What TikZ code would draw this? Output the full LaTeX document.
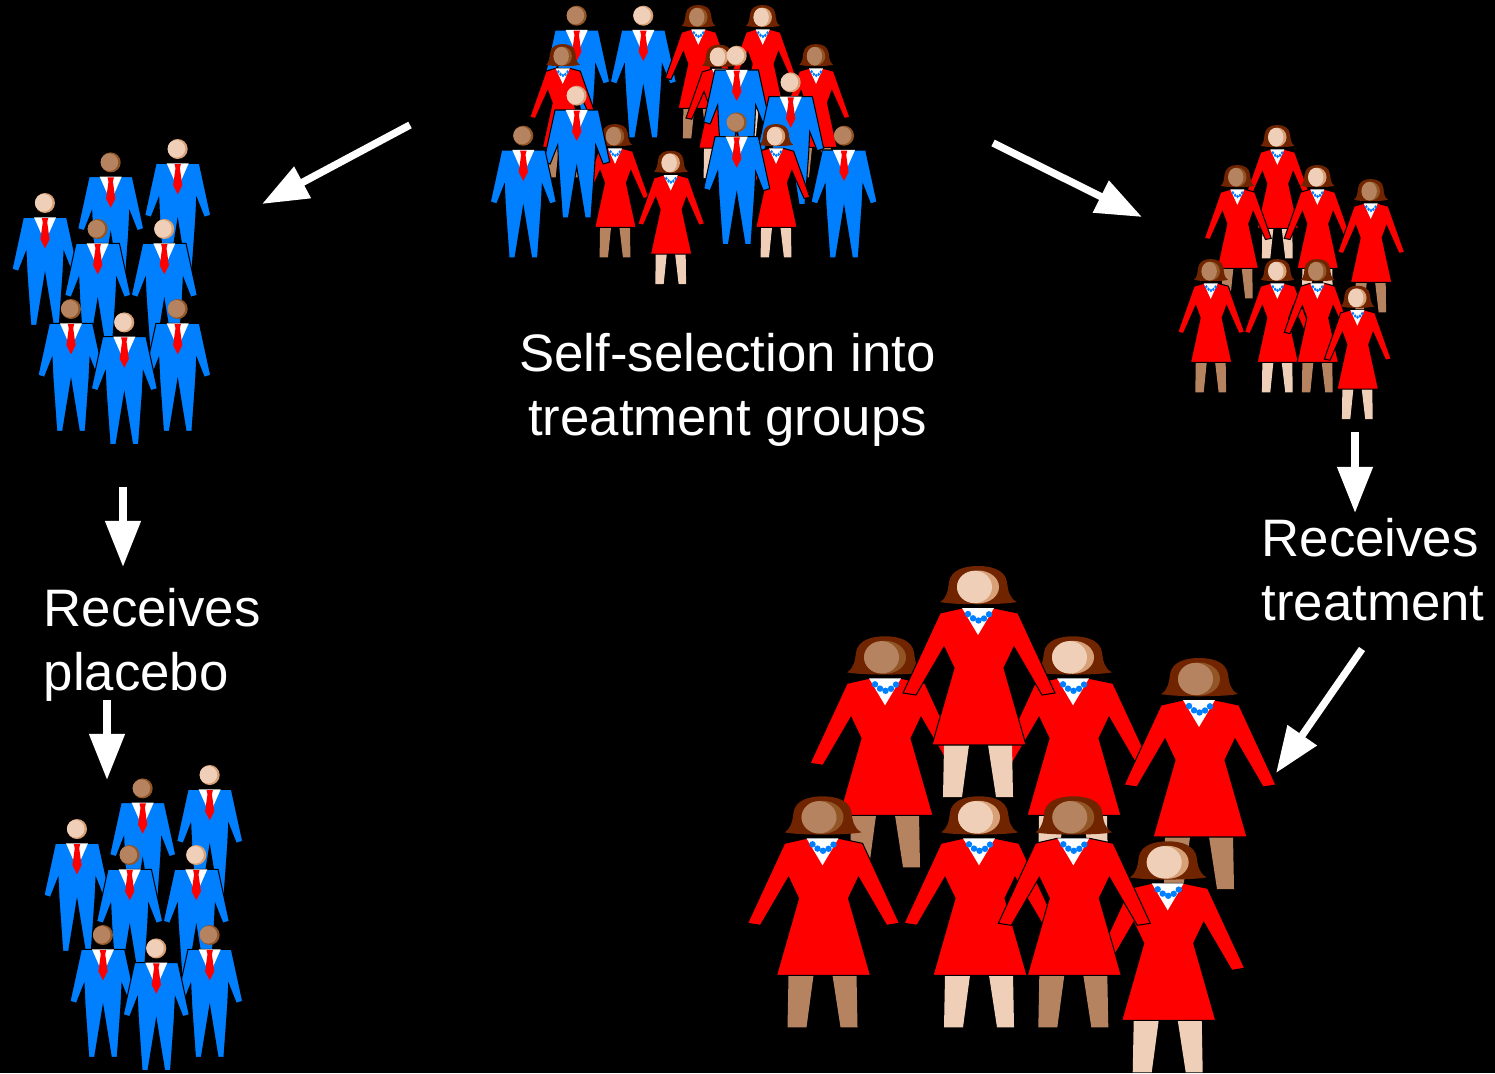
\documentclass[tikz,border=0pt]{standalone}
\usepackage{fontspec}
\setmainfont{Liberation Sans}
\usetikzlibrary{arrows.meta}
\definecolor{SuitClr}{RGB}{0,128,255}
\definecolor{DressClr}{RGB}{255,0,0}
\definecolor{skinA}{RGB}{239,207,184}
\definecolor{skinAdk}{RGB}{216,160,118}
\definecolor{skinB}{RGB}{181,131,95}
\definecolor{skinBdk}{RGB}{145,85,38}
\definecolor{HairClr}{RGB}{112,36,0}

\tikzset{
  figedge/.style={draw=black,line width=.3pt},
  smallfig/.style={xscale=.44,yscale=.577},
  bigfig/.style={scale=1},
  arr/.style={white,line width=2.1pt,-{Triangle[length=4.6mm,width=3.4mm]}},
  lbl/.style={text=white,inner sep=0pt,font=\fontsize{15}{18}\selectfont}
}

% man in a suit, #1,#2 = neck, #3 = skin (A or B)
\newcommand{\man}[3]{%
\begin{scope}[shift={(#1,#2)}]
\fill[skin#3dk] (0,-14.3) circle (10);
\fill[skin#3] (-1.3,-14.5) circle (8.8);
\filldraw[fill=SuitClr,figedge] (-11,0) -- (-21.7,0) -- (-33,52) -- (-26.5,54) -- (-19,35)
  -- (-18,56) -- (-14.3,108) -- (-8.3,108) -- (0,57) -- (8.3,108) -- (14.3,108) -- (18,56)
  -- (19,35) -- (26.5,54) -- (33,52) -- (21.7,0) -- (11,0) -- cycle;
\fill[white] (-11,0) -- (11,0) -- (0,25) -- cycle;
\fill[DressClr] (-3.2,0.7) -- (3.2,0.7) -- (2.2,5) -- (4.6,22) -- (0,31) -- (-4.6,22) -- (-2.2,5) -- cycle;
\end{scope}}

% woman in a dress, #1,#2 = neck, #3 = size, #4 = skin (A or B)
\newcommand{\woman}[4]{%
\begin{scope}[shift={(#1,#2)},#3]
\fill[skin#4] (-34,137) -- (-9,137) -- (-16,189) -- (-35,189) -- cycle;
\fill[skin#4] (10,137) -- (34,137) -- (35,189) -- (18,189) -- cycle;
\fill[HairClr] (-38,-6) .. controls (-31,-10) and (-30,-18) .. (-29,-26)
  .. controls (-27,-38) and (-14,-42) .. (0,-42) .. controls (14,-42) and (27,-38) .. (29,-26)
  .. controls (30,-18) and (31,-10) .. (39,-6) .. controls (25,-3) and (-25,-3) .. cycle;
\fill[skin#4dk] (0,-21) ellipse [x radius=21,y radius=16.5];
\fill[skin#4] (-3.5,-21) ellipse [x radius=17.5,y radius=16.2];
\filldraw[fill=DressClr,figedge] (-16,0) -- (-38,5) -- (-75,85) -- (-62,87) -- (-34,39)
  -- (-24,60) -- (-46,137) -- (48,137) -- (26,60) -- (36,39) -- (64,87) -- (77,85)
  -- (40,5) -- (16,0) -- cycle;
\fill[white] (-16,0) -- (16,0) -- (0,27) -- cycle;
\foreach \dx/\dy in {-10/6,-5/10.3,0.5/12.5,6/10.5,11/6.3}
  \fill[SuitClr] (\dx,\dy) circle (3.2);
\end{scope}}

% the men who pick the placebo
\newcommand{\mengroup}{%
\man{177.7}{163.3}{A}
\man{110.7}{176.7}{B}
\man{45}{217.3}{A}
\man{97.7}{243.3}{B}
\man{164.3}{243.3}{A}
\man{71}{323.3}{B}
\man{177.7}{323.3}{B}
\man{124.3}{336.7}{A}}

\begin{document}
\begin{tikzpicture}[x=0.01cm,y=-0.01cm]
\useasboundingbox (0,0) rectangle (1495,1073);
\fill[black] (0,0) rectangle (1495,1073);

% mixed crowd
\man{576.7}{30}{B}
\man{643.3}{30}{A}
\woman{698.3}{29.3}{smallfig}{B}
\woman{762.7}{29.3}{smallfig}{A}
\woman{719}{69}{smallfig}{A}
\woman{562.7}{68.3}{smallfig}{B}
\woman{816}{68.3}{smallfig}{B}
\man{736.7}{70}{A}
\man{790.7}{96.7}{A}
\woman{615}{148.3}{smallfig}{B}
\man{576.7}{110}{A}
\woman{776}{148.3}{smallfig}{A}
\man{523.3}{150}{B}
\man{736.7}{136.7}{B}
\man{844}{150}{B}
\woman{670.7}{175}{smallfig}{A}

% control side
\mengroup
\begin{scope}[shift={(32,626)}]
\mengroup
\end{scope}

% treated side
\woman{1277.3}{149.3}{smallfig}{A}
\woman{1237.3}{189.3}{smallfig}{B}
\woman{1317.3}{189.3}{smallfig}{A}
\woman{1370.7}{203.3}{smallfig}{B}
\woman{1210.7}{283.3}{smallfig}{B}
\woman{1277.3}{283.3}{smallfig}{A}
\woman{1317.3}{283.3}{smallfig}{B}
\woman{1357.3}{310}{smallfig}{A}

\woman{885}{678.3}{bigfig}{B}
\woman{1073}{678.3}{bigfig}{A}
\woman{978}{608}{bigfig}{A}
\woman{1199}{700}{bigfig}{B}
\woman{822.5}{838.3}{bigfig}{B}
\woman{979}{838.3}{bigfig}{A}
\woman{1167.7}{883.3}{bigfig}{A}
\woman{1073.3}{838.3}{bigfig}{B}

% labels (base = last line)
\node[lbl,align=center,anchor=base] (selfsel) at (727.5,435) {Self-selection into\\treatment groups};
\node[lbl,align=left,anchor=base west] (placebo) at (43,690) {Receives\\placebo};
\node[lbl,align=left,anchor=base west] (treat) at (1261,620) {Receives\\treatment};

% arrows
\coordinate (poolW) at (410,125);
\coordinate (ctrlNE) at (262,204);
\coordinate (poolE) at (993,143);
\coordinate (trtNW) at (1142,217);
\coordinate (trtS) at (1355,432);
\coordinate (treatN) at (1355,513);
\coordinate (treatS) at (1362,649);
\coordinate (bigNE) at (1276,773);
\coordinate (ctrlS) at (123,487);
\coordinate (placeboN) at (123,567);
\coordinate (placeboS) at (107,700);
\coordinate (lowN) at (107,780);

\draw[arr] (poolW) -- (ctrlNE);
\draw[arr] (poolE) -- (trtNW);
\draw[arr] (trtS) -- (treatN);
\draw[arr] (treatS) -- (bigNE);
\draw[arr] (ctrlS) -- (placeboN);
\draw[arr] (placeboS) -- (lowN);
\end{tikzpicture}
\end{document}
